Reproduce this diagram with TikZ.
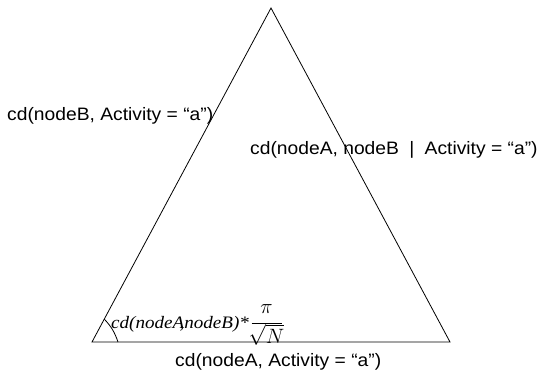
\documentclass[tikz,border=0pt]{standalone}
\usepackage{fontspec}
\setmainfont{Liberation Serif}
\newfontfamily\labelfont[FakeStretch=1.07]{Liberation Sans}
\newfontfamily\formulafont[FakeStretch=1.09]{Liberation Serif}
\usetikzlibrary{calc}
\tikzset{
  edge/.style={draw=black, line width=0.8pt},
  lbl/.style={inner sep=0pt, anchor=base west, font=\labelfont\fontsize{18}{20}\selectfont},
  flbl/.style={inner sep=0pt, anchor=base west, font=\formulafont\itshape\fontsize{17.5}{19}\selectfont},
}
\begin{document}
\begin{tikzpicture}[x=1pt,y=-1pt]
\useasboundingbox (0,0) rectangle (538,374);
% corners of the triangle
\coordinate (T) at (271,8);
\coordinate (L) at (92,342);
\coordinate (R) at (450,342);
\draw[edge] (T) -- (L) -- (R) -- cycle;
% angle mark at the lower left corner
\coordinate (m1) at ($(L)!26pt!(T)$);
\coordinate (m2) at ($(L)!26pt!(R)$);
\draw[edge] (m1) to[bend left=12] (m2);
% side labels
\node[lbl] (left)  at (7,121)   {cd(nodeB, Activity = “a”)};
\node[lbl] (right) at (250,155) {cd(nodeA, nodeB\hspace{5pt} |\hspace{5pt} Activity = “a”)};
\node[lbl] (base)  at (175,366) {cd(nodeA, Activity = “a”)};
% angle formula
\node[flbl] (cdab) at (111,328) {cd(nodeA\llap{,}nodeB)*};
\node[inner sep=0pt, anchor=base west, font=\fontsize{20}{22}\selectfont] (frac) at ([xshift=1pt]cdab.base east)
  {$\displaystyle\frac{\pi}{\makebox[30pt]{$\sqrt{N}$}}$};
\end{tikzpicture}
\end{document}
